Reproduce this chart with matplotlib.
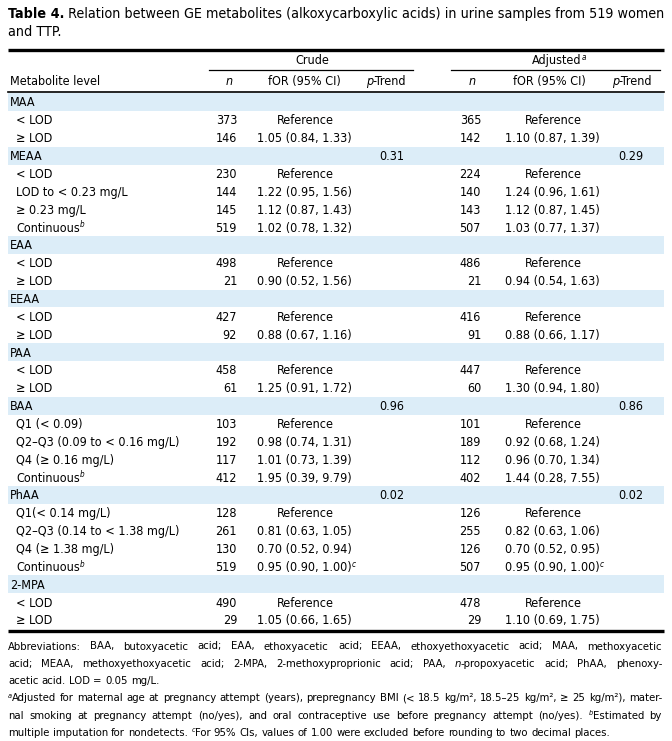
import matplotlib
matplotlib.use('Agg')
import matplotlib.pyplot as plt
from matplotlib.patches import Rectangle

plt.rcParams['font.family'] = ['DejaVu Sans']
plt.rcParams['font.stretch'] = 'condensed'

# table data
groups = ['MAA', 'MEAA', 'EAA', 'EEAA', 'PAA', 'BAA', 'PhAA', '2-MPA']
p_crude = ['', '0.31', '', '', '', '0.96', '0.02', '']
p_adj = ['', '0.29', '', '', '', '0.86', '0.02', '']
levels = [
    ['< LOD', '≥ LOD'],
    ['< LOD', 'LOD to < 0.23 mg/L', '≥ 0.23 mg/L', 'Continuous^b'],
    ['< LOD', '≥ LOD'],
    ['< LOD', '≥ LOD'],
    ['< LOD', '≥ LOD'],
    ['Q1 (< 0.09)', 'Q2–Q3 (0.09 to < 0.16 mg/L)', 'Q4 (≥ 0.16 mg/L)', 'Continuous^b'],
    ['Q1(< 0.14 mg/L)', 'Q2–Q3 (0.14 to < 1.38 mg/L)', 'Q4 (≥ 1.38 mg/L)', 'Continuous^b'],
    ['< LOD', '≥ LOD'],
]
n_crude = [[373, 146], [230, 144, 145, 519], [498, 21], [427, 92], [458, 61],
           [103, 192, 117, 412], [128, 261, 130, 519], [490, 29]]
or_crude = [
    ['Reference', '1.05 (0.84, 1.33)'],
    ['Reference', '1.22 (0.95, 1.56)', '1.12 (0.87, 1.43)', '1.02 (0.78, 1.32)'],
    ['Reference', '0.90 (0.52, 1.56)'],
    ['Reference', '0.88 (0.67, 1.16)'],
    ['Reference', '1.25 (0.91, 1.72)'],
    ['Reference', '0.98 (0.74, 1.31)', '1.01 (0.73, 1.39)', '1.95 (0.39, 9.79)'],
    ['Reference', '0.81 (0.63, 1.05)', '0.70 (0.52, 0.94)', '0.95 (0.90, 1.00)^c'],
    ['Reference', '1.05 (0.66, 1.65)'],
]
n_adj = [[365, 142], [224, 140, 143, 507], [486, 21], [416, 91], [447, 60],
         [101, 189, 112, 402], [126, 255, 126, 507], [478, 29]]
or_adj = [
    ['Reference', '1.10 (0.87, 1.39)'],
    ['Reference', '1.24 (0.96, 1.61)', '1.12 (0.87, 1.45)', '1.03 (0.77, 1.37)'],
    ['Reference', '0.94 (0.54, 1.63)'],
    ['Reference', '0.88 (0.66, 1.17)'],
    ['Reference', '1.30 (0.94, 1.80)'],
    ['Reference', '0.92 (0.68, 1.24)', '0.96 (0.70, 1.34)', '1.44 (0.28, 7.55)'],
    ['Reference', '0.82 (0.63, 1.06)', '0.70 (0.52, 0.95)', '0.95 (0.90, 1.00)^c'],
    ['Reference', '1.10 (0.69, 1.75)'],
]

# footnote lines: list of (text, style) runs, and whether the line is justified
foot_lines = [
    ([('Abbreviations: BAA, butoxyacetic acid; EAA, ethoxyacetic acid; EEAA, ethoxyethoxyacetic acid; MAA, methoxyacetic', '')], True),
    ([('acid; MEAA, methoxyethoxyacetic acid; 2-MPA, 2-methoxyproprionic acid; PAA, ', ''), ('n', 'i'),
      ('-propoxyacetic acid; PhAA, phenoxy-', '')], True),
    ([('acetic acid. LOD = 0.05 mg/L.', '')], False),
    ([('a', 'sup'), ('Adjusted for maternal age at pregnancy attempt (years), prepregnancy BMI (< 18.5 kg/m², 18.5–25 kg/m², ≥ 25 kg/m²), mater-', '')], True),
    ([('nal smoking at pregnancy attempt (no/yes), and oral contraceptive use before pregnancy attempt (no/yes). ', ''),
      ('b', 'sup'), ('Estimated by', '')], True),
    ([('multiple imputation for nondetects. ', ''), ('c', 'sup'),
      ('For 95% CIs, values of 1.00 were excluded before rounding to two decimal places.', '')], False),
]

SHADE = '#dcedf8'
L, R = 8, 664
fig = plt.figure(figsize=(6.72, 7.41), dpi=100)
ax = fig.add_axes([0, 0, 1, 1])
ax.set_xlim(0, 672)
ax.set_ylim(741, 0)
ax.axis('off')
rend = fig.canvas.get_renderer()


def style_kw(st, fs):
    if st == 'i':
        return dict(fontsize=fs, style='italic')
    if st == 'sup':
        return dict(fontsize=fs * 0.65, style='italic')
    if st == 'b':
        return dict(fontsize=fs, weight='bold')
    return dict(fontsize=fs)


def twidth(s, kw):
    t = ax.text(0, 0, s, **kw)
    w = t.get_window_extent(rend).width
    t.remove()
    return w


def runs(x, y, parts, fs, ha='left'):
    ws = [twidth(s, style_kw(st, fs)) for s, st in parts]
    tot = sum(ws)
    if ha == 'right':
        x -= tot
    elif ha == 'center':
        x -= tot / 2
    for (s, st), w in zip(parts, ws):
        dy = -fs * 0.45 if st == 'sup' else 0
        ax.text(x, y + dy, s, va='baseline', ha='left', **style_kw(st, fs))
        x += w


def split_words(parts):
    words, cur = [], []
    for s, st in parts:
        for i, p in enumerate(s.split(' ')):
            if i > 0:
                if cur:
                    words.append(cur)
                cur = []
            if p:
                cur.append((p, st))
    if cur:
        words.append(cur)
    return words


def natural_width(words, fs):
    sp = twidth('a a', style_kw('', fs)) - twidth('aa', style_kw('', fs))
    ws = [sum(twidth(s, style_kw(st, fs)) for s, st in w) for w in words]
    return sum(ws) + sp * (len(words) - 1)


# font sizes sized so the text widths match the reference
FS = 10 * 57 / twidth('Reference', style_kw('', 10))
TFS = 10 * 650 / twidth('Table 4. Relation between GE metabolites (alkoxycarboxylic acids) in urine samples from 519 women', style_kw('', 10))
foot_words = [split_words(p) for p, j in foot_lines]
FFS = 10 * (R - L - 3) / max(natural_width(w, 10) for w in foot_words)


def cell(x, y, s, ha='left'):
    if '^' in s:
        base, sup = s.split('^')
        bw = twidth(base, style_kw('', FS))
        x0 = x - bw if ha == 'right' else (x - bw / 2 if ha == 'center' else x)
        runs(x0, y, [(base, ''), (sup, 'sup')], FS)
    else:
        ax.text(x, y, s, va='baseline', ha=ha, fontsize=FS)


# title
runs(L, 18, [('Table 4.', 'b'), (' Relation between GE metabolites (alkoxycarboxylic acids) in urine samples from 519 women', '')], TFS)
runs(L, 36, [('and TTP.', '')], TFS)

# header
ax.plot([L, R], [50, 50], color='black', lw=2.4, solid_capstyle='butt')
ax.text(312, 64, 'Crude', ha='center', va='baseline', fontsize=FS)
runs(532, 64, [('Adjusted', ''), ('a', 'sup')], FS)
ax.plot([209, 413], [70, 70], color='black', lw=0.9)
ax.plot([451, 660], [70, 70], color='black', lw=0.9)
ax.text(10, 85, 'Metabolite level', va='baseline', fontsize=FS)
for xn, xo, xp in [(229, 304, 386), (472, 549, 632)]:
    ax.text(xn, 85, 'n', ha='center', va='baseline', fontsize=FS, style='italic')
    ax.text(xo, 85, 'fOR (95% CI)', ha='center', va='baseline', fontsize=FS)
    runs(xp, 85, [('p', 'i'), ('-Trend', '')], FS, ha='center')
ax.plot([L, R], [91.5, 91.5], color='black', lw=1.2)

# body
row_h = 17.86
y = 102
for g in range(len(groups)):
    ax.add_patch(Rectangle((L, y - row_h / 2), R - L, row_h, color=SHADE, lw=0, zorder=0))
    ax.text(10, y + 4.5, groups[g], va='baseline', fontsize=FS)
    if p_crude[g]:
        ax.text(404, y + 4.5, p_crude[g], ha='right', va='baseline', fontsize=FS)
        ax.text(643, y + 4.5, p_adj[g], ha='right', va='baseline', fontsize=FS)
    y += row_h
    for k, lab in enumerate(levels[g]):
        yb = y + 4.5
        cell(16, yb, lab)
        ax.text(237, yb, str(n_crude[g][k]), ha='right', va='baseline', fontsize=FS)
        ax.text(481, yb, str(n_adj[g][k]), ha='right', va='baseline', fontsize=FS)
        if or_crude[g][k] == 'Reference':
            ax.text(305, yb, 'Reference', ha='center', va='baseline', fontsize=FS)
        else:
            cell(257, yb, or_crude[g][k])
        if or_adj[g][k] == 'Reference':
            ax.text(553, yb, 'Reference', ha='center', va='baseline', fontsize=FS)
        else:
            cell(505, yb, or_adj[g][k])
        y += row_h

ax.plot([L, R], [631, 631], color='black', lw=2.4, solid_capstyle='butt')

# footnotes, justified line by line
fy = 649.5
space = twidth('a a', style_kw('', FFS)) - twidth('aa', style_kw('', FFS))
for words, (parts, justify) in zip(foot_words, foot_lines):
    wws = [sum(twidth(s, style_kw(st, FFS)) for s, st in w) for w in words]
    gap = space
    if justify and len(words) > 1:
        gap = (R - 2 - L - sum(wws)) / (len(words) - 1)
    x = L
    for w, ww in zip(words, wws):
        runs(x, fy, w, FFS)
        x += ww + gap
    fy += 17.3

fig.savefig('out.png', dpi=100)
